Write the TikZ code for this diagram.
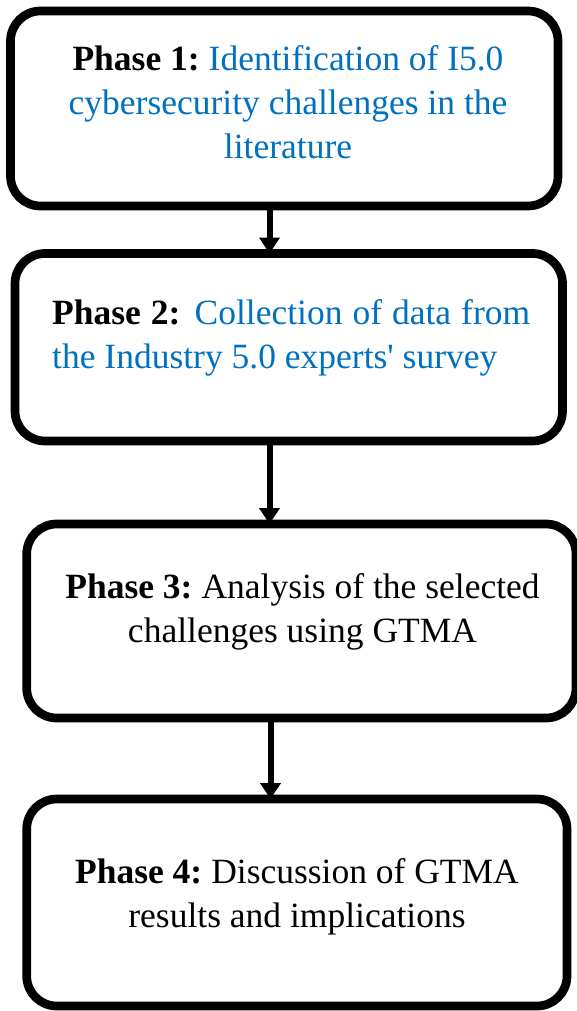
\documentclass[tikz,border=0pt]{standalone}
\usepackage{fontspec}
\setmainfont{Liberation Serif}
\newfontfamily\plainserif{Liberation Serif}
\usetikzlibrary{arrows.meta}
\definecolor{phaseblue}{RGB}{0,112,192}
\newcommand{\phasegap}{\hspace{9pt}}
\begin{document}
\begin{tikzpicture}[x=1pt,y=-1pt,
  phasebox/.style={draw=black, line width=8.7pt, rounded corners=30pt, inner sep=0pt, outer sep=0pt, fill=white},
  phasetext/.style={font=\fontsize{35.5}{44}\selectfont, inner sep=0pt, align=center},
  flowarrow/.style={draw=black, line width=6pt, -{Triangle[width=20pt,length=16pt]}}]
\useasboundingbox (0,0) rectangle (577,1011);
\node[phasebox, minimum width=547.5pt, minimum height=195pt] (b1) at (284.25,108.5) {};
\node[phasebox, minimum width=547.5pt, minimum height=187.5pt] (b2) at (288.75,347.25) {};
\node[phasebox, minimum width=549.3pt, minimum height=194pt] (b3) at (301.35,621) {};
\node[phasebox, minimum width=540.3pt, minimum height=207pt] (b4) at (296.85,902.5) {};
\node[phasetext] (t1) at (288,101.8) {\textbf{Phase 1:}\phasegap\textcolor{phaseblue}{Identification of I5.0}\\ \textcolor{phaseblue}{cybersecurity challenges in the}\\ \textcolor{phaseblue}{literature}};
\node[phasetext, align=left, anchor=west] (t2) at (52,338.2) {\makebox[478pt][s]{\textbf{Phase 2:} \textcolor{phaseblue}{Collection of data from}}\\ \textcolor{phaseblue}{the Industry 5.0 experts{\plainserif'} survey}};
\node[phasetext] (t3) at (302.5,612.2) {\textbf{Phase 3:}\phasegap Analysis of the selected\\ challenges using GTMA};
\node[phasetext] (t4) at (297,896.5) {\textbf{Phase 4:}\phasegap Discussion of GTMA\\ results and implications};
\coordinate (ax) at (269.5,0);
\coordinate (ax3) at (270.5,0);
\draw[flowarrow] (b1.south -| ax) -- (b2.north -| ax);
\draw[flowarrow] (b2.south -| ax) -- (b3.north -| ax);
\draw[flowarrow] (b3.south -| ax3) -- (b4.north -| ax3);
\end{tikzpicture}
\end{document}
